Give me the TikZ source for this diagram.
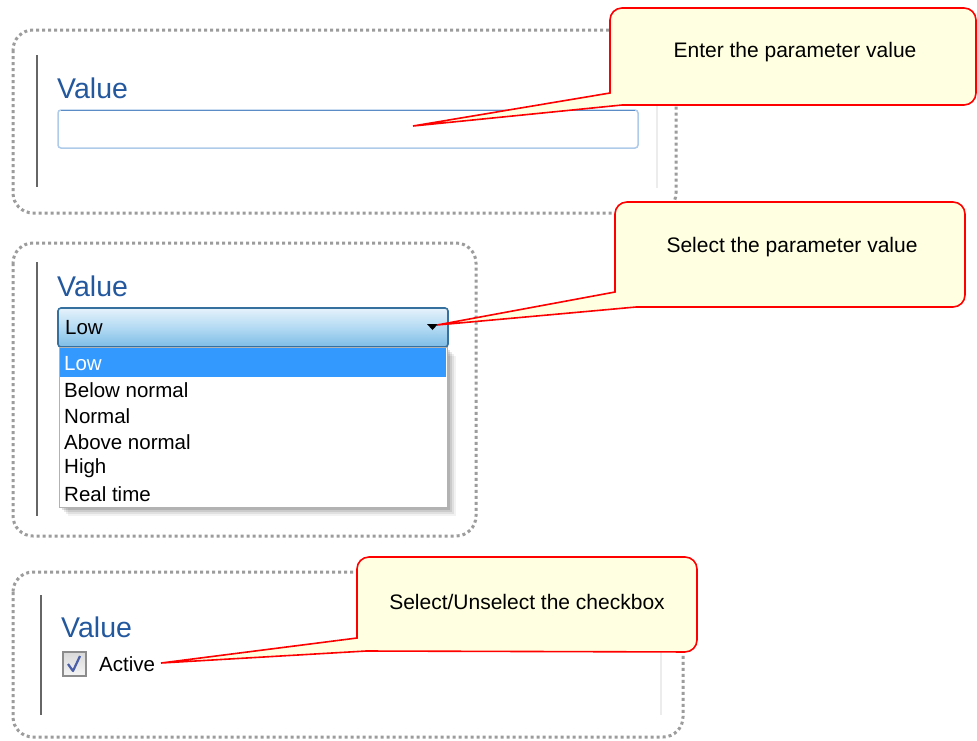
\documentclass[tikz,border=0pt]{standalone}
\usepackage{fontspec}
\setmainfont{Liberation Sans}
\usetikzlibrary{calc}
\definecolor{dotgray}{HTML}{9C9C9C}
\definecolor{valblue}{HTML}{23589E}
\definecolor{tipfill}{HTML}{FFFFE1}
\definecolor{fieldb}{HTML}{AECBEA}
\definecolor{fieldtop}{HTML}{5B8CC6}
\definecolor{combob}{HTML}{35709E}
\definecolor{combotop}{HTML}{E6F2FB}
\definecolor{combomid}{HTML}{B3DAF3}
\definecolor{combobot}{HTML}{7DBCE6}
\definecolor{selblue}{HTML}{3399FF}
\definecolor{checkblue}{HTML}{4A5FA8}
\tikzset{
  panel/.style={draw=dotgray, line width=3pt, dash pattern=on 3pt off 3pt, rounded corners=20pt},
  innerl/.style={draw=gray!80!black, line width=1.5pt},
  innerr/.style={draw=gray!15, line width=1.5pt},
  vallabel/.style={anchor=west, text=valblue, font=\fontsize{28.5}{31}\selectfont, inner sep=0pt},
  itemtext/.style={anchor=west, font=\fontsize{20.5}{22}\selectfont, inner sep=0pt},
  callout/.style={draw=red, fill=tipfill, line width=1.6pt, line join=miter},
  tiptext/.style={font=\fontsize{21}{24}\selectfont, inner sep=0pt}
}
\begin{document}
\begin{tikzpicture}[x=1pt,y=-1pt]
\useasboundingbox (0,0) rectangle (977,740);
\fill[white] (0,0) rectangle (977,740);

% ---------- panel 1 ----------
\draw[panel] (13,30) rectangle (676,213);
\draw[innerl] (37,55) -- (37,187);
\draw[innerr] (657,55) -- (657,188);
\node[vallabel] (v1) at (57,88) {Value};
\draw[fieldb, line width=1.5pt, rounded corners=3pt, fill=white] (58,110) rectangle (638,148);
\draw[fieldtop, line width=1.5pt] (61,110.5) -- (635,110.5);
\coordinate (t1) at (413,126);

% ---------- panel 2 ----------
\draw[panel] (13,243) rectangle (476,536);
\draw[innerl] (37,262) -- (37,516);
\node[vallabel] (v2) at (57,286) {Value};
\shade[rounded corners=3pt, top color=combotop, bottom color=combobot, middle color=combomid] (58,308) rectangle (448,347);
\draw[combob, line width=1.6pt, rounded corners=3pt] (58,308) rectangle (448,347);
\node[itemtext] (cb) at (65,328) {Low};
\fill[black] (427,324) -- (438,324) -- (432.5,330) -- cycle;
\coordinate (t2) at (437,325);
% list shadow
\foreach \o/\op in {9/0.05,7/0.07,5/0.09,3/0.12}{
  \fill[black, opacity=\op] (59+\o,347+\o) rectangle (447+\o,507+\o);
}
\fill[white] (59,347) rectangle (447,507);
\draw[gray!60, line width=1pt] (59,347) rectangle (447,507);
\fill[selblue] (60,348) rectangle (446,377);
\node[itemtext, text=white] (i1) at (64,364) {Low};
\node[itemtext] (i2) at (64,390) {Below normal};
\node[itemtext] (i3) at (64,416) {Normal};
\node[itemtext] (i4) at (64,442) {Above normal};
\node[itemtext] (i5) at (64,468) {High};
\node[itemtext] (i6) at (64,494) {Real time};

% ---------- panel 3 ----------
\draw[panel] (13,572) rectangle (683,737);
\draw[innerl] (41,595) -- (41,715);
\draw[innerr] (661,595) -- (661,715);
\node[vallabel] (v3) at (61,627) {Value};
\shade[top color=gray!30, bottom color=gray!8] (63,652) rectangle (86,676);
\draw[gray!90, line width=1.3pt] (63,652) rectangle (86,676);
\draw[checkblue, line width=2.2pt, line join=round] (68,664) -- (73,671) -- (80,656);
\node[itemtext] (act) at (99,664) {Active};
\coordinate (t3) at (161,663);

% ---------- callouts ----------
\draw[callout] (t1) -- (610,93) [rounded corners=12pt] -- (610,8) -- (976,8) -- (976,105) [sharp corners] -- (622,105) -- cycle;
\node[tiptext] (c1) at (795,52) {Enter the parameter value};

\draw[callout] (t2) -- (615,292) [rounded corners=12pt] -- (615,202) -- (965,202) -- (965,307) [sharp corners] -- (636,307) -- cycle;
\node[tiptext] (c2) at (792,247) {Select the parameter value};

\draw[callout] (t3) -- (357,638) [rounded corners=12pt] -- (357,557) -- (697,557) -- (697,652) [sharp corners] -- (366,651) -- cycle;
\node[tiptext] (c3) at (527,602) {Select/Unselect the checkbox};
\end{tikzpicture}
\end{document}
